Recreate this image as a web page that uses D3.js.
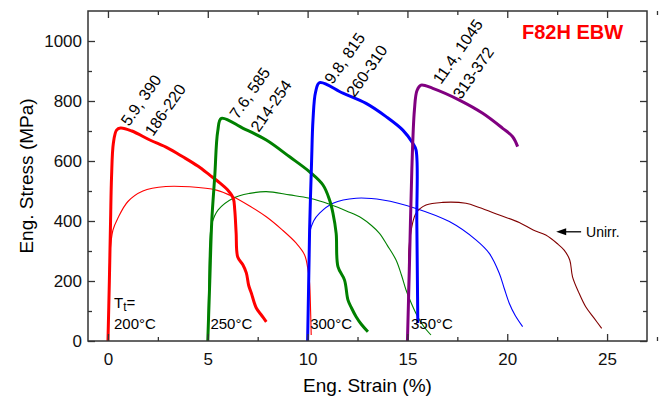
<!DOCTYPE html>
<html>
<head>
<meta charset="utf-8">
<script src="https://cdn.jsdelivr.net/npm/d3@7"></script>
<style>
  body { margin: 0; background: #fff; }
  svg { font-family: Arial, 'Liberation Sans', sans-serif; }
</style>
</head>
<body>
<svg id="chart" width="661" height="402"></svg>
<script>
// Tensile curves, [strain %, stress MPa]
const irr200 = [[0, 0], [0.07, 200], [0.13, 400], [0.18, 548], [0.27, 659], [0.43, 703], [0.63, 710],
  [1.2, 700], [2.1, 670], [3.0, 643], [3.75, 614], [4.5, 583], [5.1, 553], [5.6, 527], [6.0, 503],
  [6.27, 477], [6.35, 437], [6.42, 360], [6.5, 280], [6.75, 255], [6.93, 227], [7.05, 185],
  [7.18, 160], [7.43, 110], [7.7, 85], [7.93, 64]];
const unirr200 = [[0, 0], [0.05, 150], [0.1, 290], [0.25, 370], [0.5, 410], [1.0, 465], [1.75, 500],
  [2.9, 515], [4.1, 514], [5.43, 503], [6.27, 481], [7.1, 450], [7.93, 414], [8.7, 372], [9.43, 326],
  [9.85, 287], [10.02, 237], [10.1, 193], [10.15, 100], [10.18, 20]];
const irr250 = [[5, 0], [5.1, 200], [5.2, 400], [5.35, 550], [5.5, 700], [5.68, 742], [6.77, 709],
  [7.93, 670], [9.1, 614], [10.1, 564], [10.77, 520], [11.1, 470], [11.27, 426], [11.43, 359],
  [11.52, 248], [11.85, 203], [12.02, 137], [12.2, 110], [12.43, 81], [12.7, 55], [13.02, 31]];
const unirr250 = [[5, 0], [5.05, 200], [5.1, 330], [5.2, 390], [5.52, 437], [6.27, 476], [7.1, 492],
  [7.93, 498], [9.1, 487], [10.1, 476], [11.1, 456], [12.0, 432], [12.7, 410], [13.2, 385],
  [13.6, 359], [14.0, 318], [14.43, 270], [14.7, 220], [14.93, 170], [15.2, 125], [15.43, 92],
  [15.8, 50], [16.18, 20]];
const irr300 = [[10, 0], [10.05, 180], [10.1, 370], [10.2, 600], [10.27, 737], [10.4, 830], [10.6, 861],
  [11.77, 826], [12.93, 792], [13.93, 748], [14.77, 703], [15.27, 659], [15.43, 637], [15.47, 400],
  [15.5, 200], [15.52, 60]];
const unirr300 = [[10, 0], [10.05, 200], [10.1, 359], [10.3, 400], [10.6, 426], [11.27, 459],
  [12.43, 476], [13.77, 470], [15.43, 442], [17.1, 398], [18.43, 337], [19.1, 292], [19.6, 226],
  [19.85, 175], [20.1, 126], [20.4, 85], [20.77, 48]];
const irr350 = [[15, 0], [15.1, 250], [15.22, 570], [15.35, 770], [15.48, 835], [15.68, 853],
  [16.27, 842], [17.6, 803], [18.77, 759], [19.77, 709], [20.27, 681], [20.52, 648]];
const unirr350 = [[15, 0], [15.05, 200], [15.1, 326], [15.43, 426], [15.93, 453], [16.77, 462],
  [17.93, 459], [18.6, 445], [19.6, 420], [20.6, 395], [21.3, 370], [21.93, 353], [22.5, 325],
  [22.85, 303], [23.13, 270], [23.27, 214], [23.6, 159], [23.93, 114], [24.35, 76], [24.73, 42]];

const xTicks = [0, 5, 10, 15, 20, 25];
const yTicks = [0, 200, 400, 600, 800, 1000];

// Test temperatures and peak annotations (label lines, anchor in data units)
const tempLabels = ['200°C', '250°C', '300°C', '350°C'];
const tempStrain = [0.3, 5.13, 10.13, 15.18];
const peakLabels = ['5.9, 390', '186-220', '7.6, 585', '214-254', '9.8, 815', '260-310',
  '11.4, 1045', '313-372'];
const peakAnchors = [[1.05, 713], [2.25, 680], [6.5, 737], [7.55, 693], [11.25, 853], [12.35, 810],
  [16.68, 853], [17.68, 803]];

function drawChart() {
  const d3 = window.d3;
  const margin = {top: 11, right: 14, bottom: 61, left: 88};
  const width = 661;
  const height = 402;

  const x = d3.scaleLinear().domain([-1, 27])
      .range([margin.left, width - margin.right]);
  const y = d3.scaleLinear().domain([0, 1100])
      .range([height - margin.bottom, margin.top]);

  const svg = d3.select('#chart');

  // curves: thin = unirradiated, thick = irradiated
  const curves = [
    {d: unirr200, c: '#ff0000', w: 1.1},
    {d: unirr250, c: '#008000', w: 1.1},
    {d: unirr300, c: '#0000ff', w: 1.1},
    {d: unirr350, c: '#800000', w: 1.1},
    {d: irr200, c: '#ff0000', w: 3},
    {d: irr250, c: '#008000', w: 3},
    {d: irr300, c: '#0000ff', w: 3},
    {d: irr350, c: '#800080', w: 3},
  ];
  const line = d3.line()
      .x((d) => x(d[0]))
      .y((d) => y(d[1]))
      .curve(d3.curveCatmullRom.alpha(0.5));

  svg.append('g').selectAll('path')
      .data(curves)
      .join('path')
      .attr('d', (d) => line(d.d))
      .attr('fill', 'none')
      .attr('stroke', (d) => d.c)
      .attr('stroke-width', (d) => d.w)
      .attr('stroke-linejoin', 'round');

  // axes with inward ticks, minor ticks halfway
  const xMinor = xTicks.map((v) => v + 2.5);
  const yMinor = d3.range(100, 1100, 200);
  const axisColor = '#333';

  const xb = svg.append('g').attr('transform', `translate(0,${y(0)})`)
      .call(d3.axisBottom(x).tickValues(xTicks).tickSize(-7).tickPadding(12)
          .tickFormat(d3.format('d')));
  xb.append('g').call(d3.axisBottom(x).tickValues(xMinor).tickSize(-4).tickFormat(''));
  const xt = svg.append('g').attr('transform', `translate(0,${margin.top})`)
      .call(d3.axisTop(x).tickValues(xTicks).tickSize(-7).tickFormat(''));
  xt.append('g').call(d3.axisTop(x).tickValues(xMinor).tickSize(-4).tickFormat(''));
  const yl = svg.append('g').attr('transform', `translate(${margin.left},0)`)
      .call(d3.axisLeft(y).tickValues(yTicks).tickSize(-7).tickPadding(6)
          .tickFormat(d3.format('d')));
  yl.append('g').call(d3.axisLeft(y).tickValues(yMinor).tickSize(-4).tickFormat(''));
  const yr = svg.append('g').attr('transform', `translate(${width - margin.right},0)`)
      .call(d3.axisRight(y).tickValues(yTicks).tickSize(-7).tickFormat(''));
  yr.append('g').call(d3.axisRight(y).tickValues(yMinor).tickSize(-4).tickFormat(''));

  svg.selectAll('.domain').remove();
  svg.selectAll('.tick line').attr('stroke', axisColor).attr('stroke-width', 1.3);
  svg.selectAll('.tick text')
      .style('font-size', '17px')
      .attr('fill', '#111')
      .style('font-family', 'Arial, \'Liberation Sans\', sans-serif');

  svg.append('rect')
      .attr('x', margin.left)
      .attr('y', margin.top)
      .attr('width', width - margin.right - margin.left)
      .attr('height', y(0) - margin.top)
      .attr('fill', 'none')
      .attr('stroke', axisColor)
      .attr('stroke-width', 1.5);

  // axis titles
  svg.append('text')
      .attr('x', (margin.left + width - margin.right) / 2)
      .attr('y', 392)
      .attr('text-anchor', 'middle')
      .style('font-size', '19px')
      .text('Eng. Strain (%)');
  svg.append('text')
      .attr('transform', `translate(33,${(margin.top + y(0)) / 2}) rotate(-90)`)
      .attr('text-anchor', 'middle')
      .style('font-size', '19px')
      .text('Eng. Stress (MPa)');

  // title
  svg.append('text')
      .attr('x', 522)
      .attr('y', 39)
      .attr('fill', '#ff0000')
      .style('font-size', '20px')
      .style('font-weight', 'bold')
      .text('F82H EBW');

  // peak annotations
  svg.append('g').selectAll('text')
      .data(peakLabels)
      .join('text')
      .attr('transform', (d, i) =>
        `translate(${x(peakAnchors[i][0])},${y(peakAnchors[i][1])}) rotate(-55)`)
      .style('font-size', '16px')
      .text((d) => d);

  // temperature labels
  const tt = svg.append('text')
      .attr('x', x(tempStrain[0]))
      .attr('y', y(110))
      .style('font-size', '15px');
  tt.append('tspan').text('T');
  tt.append('tspan').attr('dy', 3).style('font-size', '12px').text('t');
  tt.append('tspan').attr('dy', -3).text('=');
  svg.append('g').selectAll('text')
      .data(tempLabels)
      .join('text')
      .attr('x', (d, i) => x(tempStrain[i]))
      .attr('y', y(40))
      .style('font-size', '15px')
      .text((d) => d);

  // Unirr. arrow
  const ay = y(364);
  const ax0 = x(23.7);
  const ax1 = x(22.45);
  svg.append('line')
      .attr('x1', ax0).attr('y1', ay)
      .attr('x2', ax1 + 8).attr('y2', ay)
      .attr('stroke', '#000')
      .attr('stroke-width', 1.3);
  svg.append('path')
      .attr('d', `M${ax1},${ay} L${ax1 + 10},${ay - 3.5} L${ax1 + 10},${ay + 3.5} Z`)
      .attr('fill', '#000');
  svg.append('text')
      .attr('x', x(23.95))
      .attr('y', ay + 5)
      .style('font-size', '14px')
      .text('Unirr.');
}

drawChart();
</script>
</body>
</html>
